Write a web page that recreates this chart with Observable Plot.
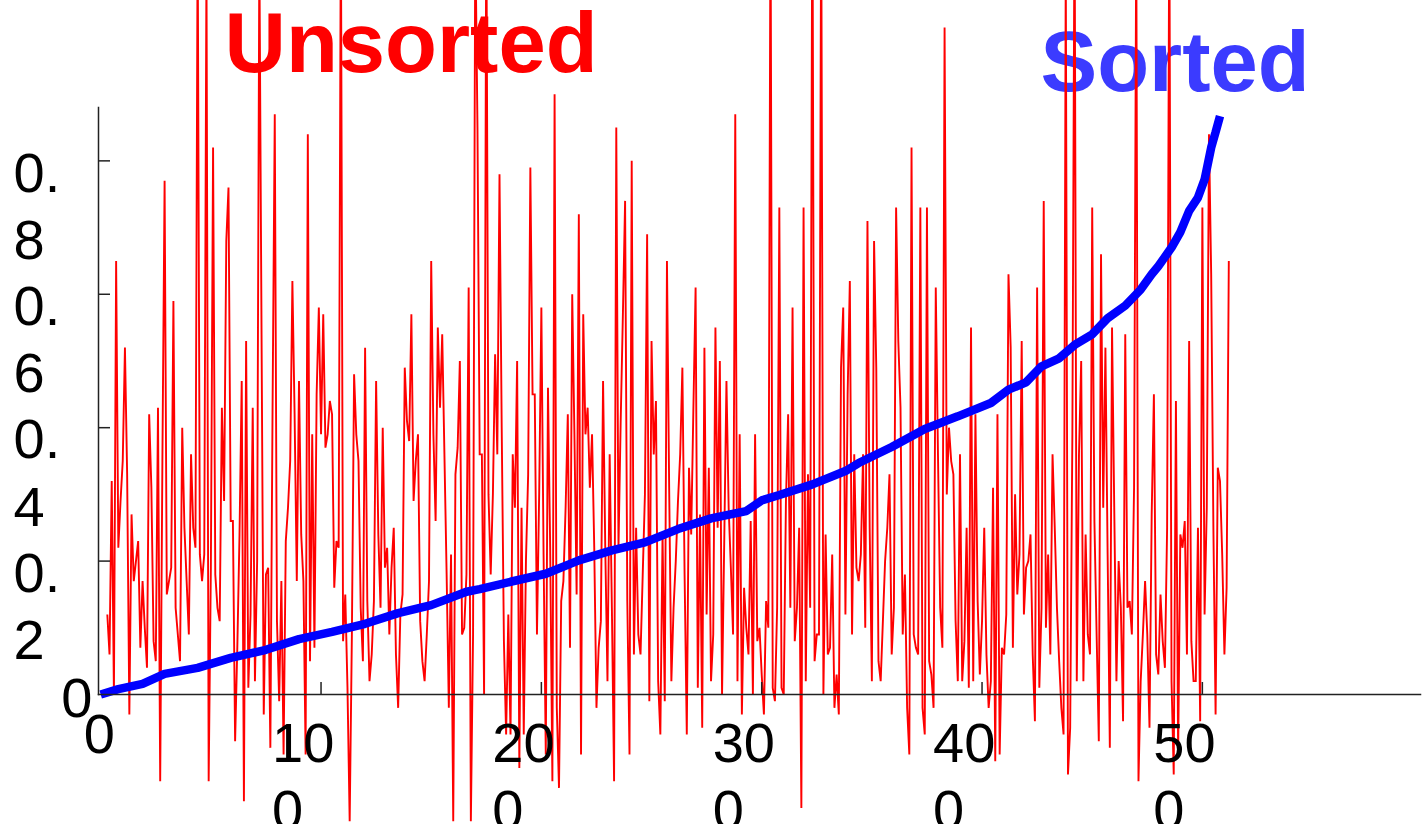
<!DOCTYPE html>
<html>
<head>
<meta charset="utf-8">
<script src="https://cdn.jsdelivr.net/npm/d3@7"></script>
<script src="https://cdn.jsdelivr.net/npm/@observablehq/plot@0.6"></script>
<style>
  html, body { margin: 0; padding: 0; background: #fff; overflow: hidden; }
  #chart svg { display: block; }
</style>
</head>
<body>
<div id="chart"></div>
<script>
// Series names, drawn as coloured headings over the plot
const seriesNames = ["Unsorted", "Sorted"];

// Unsorted sample values, one per index starting at unsortedStart
const unsortedStart = 3;
const unsortedValues = [
  0.12,0.06,0.32,0.00,0.65,0.22,0.29,0.35,0.52,0.33,
  -0.03,0.27,0.17,0.20,0.23,0.07,0.17,0.10,0.04,0.42,
  0.31,0.08,
  0.05,0.43,-0.13,0.35,0.77,0.15,0.17,0.19,0.59,0.13,
  0.09,0.05,0.40,0.25,0.17,0.09,0.36,0.25,0.22,1.15,
  0.21,0.17,0.21,1.10,-0.13,0.19,0.82,0.18,0.13,0.11,
  0.43,0.29,0.68,0.76,0.26,0.26,-0.07,0.07,0.24,0.47,
  -0.16,0.53,0.01,0.12,0.43,0.02,0.20,1.12,0.54,-0.03,
  0.18,0.19,-0.08,0.43,0.87,0.11,-0.01,0.17,-0.09,0.23,
  0.28,0.35,0.62,0.42,0.17,0.47,0.24,0.17,-0.09,0.84,
  0.05,0.39,0.07,0.45,0.58,0.39,0.57,0.37,0.39,0.44,
  0.42,0.16,
  0.23,0.22,1.18,0.08,0.15,0.01,-0.19,0.09,0.48,0.39,
  0.35,0.13,0.05,0.52,0.14,0.02,0.06,0.14,0.47,0.24,
  0.13,0.40,0.19,0.22,0.09,0.19,0.25,0.06,-0.02,0.12,
  0.15,0.49,0.41,0.38,0.57,0.29,0.35,0.39,0.11,0.05,
  0.02,0.09,0.17,0.65,0.39,0.26,0.55,0.43,0.54,0.36,
  0.18,-0.02,0.21,-0.19,0.33,0.37,0.50,0.09,0.10,0.18,
  0.61,-0.19,0.09,1.15,0.85,
  0.36,0.36,0.00,1.20,0.30,0.18,0.30,0.51,0.36,0.78,0.40,0.08,
  -0.06,0.12,-0.06,0.36,0.28,0.50,-0.11,0.28,-0.06,0.20,0.33,0.79,
  0.45,0.45,0.09,0.30,0.58,0.21,-0.09,0.46,0.22,-0.13,0.90,-0.02,
  -0.14,0.14,0.17,0.28,0.42,0.07,0.60,0.39,0.15,0.72,-0.09,0.57,
  0.39,0.43,0.31,0.39,0.22,-0.02,0.07,0.11,0.47,0.22,0.02,0.36,0.13,
  -0.13,0.85,0.22,0.41,0.57,0.74,0.14,-0.09,0.80,0.06,0.25,0.09,
  0.06,0.18,0.30,0.69,-0.01,0.53,0.36,0.44,0.02,-0.06,0.24,-0.01,
  0.65,0.31,0.02,0.13,0.20,0.29,0.36,0.49,0.18,-0.06,0.34,0.24,
  0.43,0.61,0.01,0.27,-0.05,0.52,0.12,0.34,0.02,0.09,0.55,0.25,
  0.50,0.00,0.23,0.47,0.28,0.19,0.09,0.87,0.02,0.39,-0.03,0.16,
  0.10,0.06,0.26,0.00,0.39,0.08,0.10,0.03,-0.03,0.14,0.10,1.20,
  0.01,-0.01,0.13,0.73,0.01,0.00,0.29,0.42,0.13,0.58,0.08,0.13,
  0.25,-0.17,0.73,0.02,0.33,0.13,1.25,0.05,0.09,0.09,1.20,
  0.00,0.24,0.06,0.07,0.21,-0.02,0.03,-0.03,0.49,0.58,0.12,
  0.45,0.62,0.09,0.36,0.19,
  0.17,0.21,0.36,0.10,0.71,0.25,0.02,0.68,0.49,0.05,
  0.02,0.11,0.20,0.25,0.33,0.06,0.13,0.73,0.53,
  0.43,0.09,0.18,-0.02,-0.09,0.82,0.09,0.07,0.06,
  0.73,-0.02,-0.06,0.73,0.05,0.03,-0.02,0.61,0.36,
  0.13,0.07,1.00,0.30,0.40,0.35,0.33,0.11,0.02,
  0.36,0.02,0.08,0.25,0.01,0.55,0.02,0.42,0.14,
  0.03,0.11,0.25,0.06,-0.02,0.02,0.31,-0.10,0.42,
  -0.09,0.07,0.06,0.12,0.63,0.52,0.07,0.30,0.15,
  0.21,0.53,0.12,0.19,0.20,0.24,0.06,-0.04,0.61,
  0.01,0.13,0.74,0.10,0.21,0.06,0.36,0.25,0.13,
  0.05,-0.02,-0.06,1.10,-0.12,-0.05,0.39,1.20,0.02,0.36,
  0.50,0.02,0.24,0.09,0.06,0.73,0.26,0.09,-0.07,0.66,
  0.28,0.52,0.21,-0.08,0.55,0.28,0.02,0.20,0.13,
  -0.04,0.54,0.13,0.14,0.09,0.31,1.15,-0.13,0.02,0.09,
  0.17,0.09,-0.05,0.27,0.45,0.06,0.03,0.15,0.08,
  0.04,0.25,1.20,0.02,-0.12,0.44,-0.09,0.24,0.22,
  0.26,0.06,0.53,0.08,0.02,0.02,0.25,-0.04,0.73,0.12,
  0.28,0.84,0.63,0.25,-0.03,0.34,0.32,0.21,0.06,0.16,
  0.65
];

// Sorted curve, sampled at these indices
const sortedIndex = [
  0, 8, 19, 29, 44, 59, 75, 90, 105, 120, 135, 150, 166, 172, 186, 202, 217,
  232, 247, 262, 277, 293, 300, 308, 323, 338, 344, 359, 374, 389, 404, 412,
  420, 427, 435, 442, 450, 457, 465, 472, 477, 480, 486, 490, 494, 498, 501,
  504, 506, 508
];
const sortedValues = [
  0.000, 0.008, 0.016, 0.031, 0.040, 0.055, 0.067, 0.083, 0.094, 0.106, 0.122,
  0.134, 0.154, 0.158, 0.169, 0.181, 0.201, 0.216, 0.228, 0.248, 0.264, 0.275,
  0.291, 0.299, 0.315, 0.335, 0.347, 0.371, 0.398, 0.417, 0.437, 0.457, 0.468,
  0.492, 0.504, 0.524, 0.540, 0.564, 0.583, 0.607, 0.630, 0.642, 0.670, 0.693,
  0.725, 0.745, 0.772, 0.820, 0.843, 0.867
];

// Axis ticks
const xTicks = [100, 200, 300, 400, 500];
const yTicks = [0.2, 0.4, 0.6, 0.8];
const xOrigin = [0];
const yOrigin = [0];

const unsorted = unsortedValues.map((v, i) => ({i: i + unsortedStart, v}));
const sorted = sortedIndex.map((i, k) => ({i, v: sortedValues[k]}));

// Tick labels break after their second character
const wrap = (d) => {
  const s = String(d);
  return s.length > 2 ? s.slice(0, 2) + "\n" + s.slice(2) : s;
};

const font = "'Liberation Sans', Arial, Helvetica, sans-serif";
const tickFont = 56;
const axisStroke = "#222";

const chart = Plot.plot({
  width: 1424,
  height: 824,
  marginLeft: 98,
  marginRight: 4,
  marginTop: 107,
  marginBottom: 130,
  x: {domain: [-1, 599], label: null},
  y: {domain: [0, 0.88], label: null},
  style: {fontFamily: font, background: "white", maxWidth: "none", overflow: "visible", color: "#000"},
  marks: [
    // headings sit underneath the data lines
    Plot.text([seriesNames[0]], {
      frameAnchor: "top-left", dx: 126, dy: -96, lineAnchor: "top", textAnchor: "start",
      fontSize: 85, fontWeight: "bold", fill: "#ff0000"
    }),
    Plot.text([seriesNames[1]], {
      frameAnchor: "top-left", dx: 942, dy: -77, lineAnchor: "top", textAnchor: "start",
      fontSize: 85, fontWeight: "bold", fill: "#3b3bff"
    }),
    Plot.line(unsorted, {
      x: "i", y: "v", stroke: "#ff0000", strokeWidth: 1.9,
      strokeLinejoin: "miter", strokeMiterlimit: 4, strokeLinecap: "butt"
    }),
    Plot.line(sorted, {
      x: "i", y: "v", stroke: "#0000ff", strokeWidth: 8.5, strokeLinejoin: "miter", strokeLinecap: "butt"
    }),
    Plot.frame({anchor: "left", stroke: axisStroke, strokeWidth: 1.5}),
    Plot.frame({anchor: "bottom", stroke: axisStroke, strokeWidth: 1.5}),
    // inward tick marks
    Plot.axisX(xTicks, {tickSize: -12, tickFormat: () => "", stroke: axisStroke, strokeWidth: 1.5, label: null}),
    Plot.axisY(yTicks, {tickSize: -12, tickFormat: () => "", stroke: axisStroke, strokeWidth: 1.5, label: null}),
    // tick labels
    Plot.axisX(xTicks, {
      tickSize: 0, tickPadding: 0, textAnchor: "start", dx: -49, dy: 19, lineAnchor: "top",
      lineHeight: 1.21, fontSize: tickFont, tickFormat: wrap, label: null
    }),
    Plot.axisX(xOrigin, {
      tickSize: 0, tickPadding: 0, dx: -1.5, dy: 19, lineAnchor: "top",
      fontSize: tickFont, tickFormat: wrap, label: null
    }),
    Plot.axisY(yTicks, {
      tickSize: 0, tickPadding: 0, textAnchor: "start", dx: -85, dy: -17, lineAnchor: "top",
      lineHeight: 1.2, fontSize: tickFont, tickFormat: wrap, label: null
    }),
    Plot.axisY(yOrigin, {
      tickSize: 0, tickPadding: 0, textAnchor: "end", dx: -6, dy: -17, lineAnchor: "top",
      fontSize: tickFont, tickFormat: wrap, label: null
    })
  ]
});

document.getElementById("chart").appendChild(chart);
</script>
</body>
</html>
